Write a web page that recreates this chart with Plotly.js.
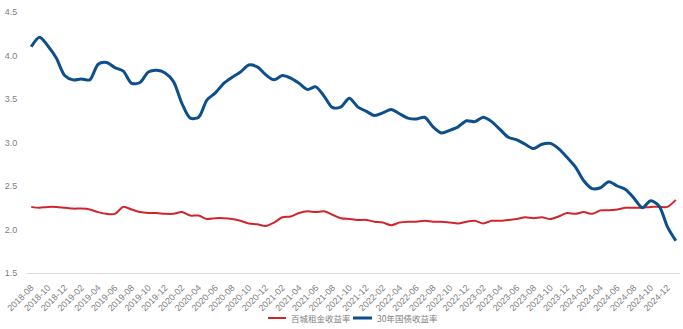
<!DOCTYPE html>
<html>
<head>
<meta charset="utf-8">
<script src="https://cdn.plot.ly/plotly-3.0.1.min.js"></script>
<style>html,body{margin:0;padding:0;background:#fff;}#chart{width:683px;height:329px;}</style>
</head>
<body>
<div id="chart"></div>
<script>
// Months 2018-08 .. 2025-01
const months = [
  "2018-08","2018-09","2018-10","2018-11","2018-12",
  "2019-01","2019-02","2019-03","2019-04","2019-05","2019-06","2019-07","2019-08","2019-09","2019-10","2019-11","2019-12",
  "2020-01","2020-02","2020-03","2020-04","2020-05","2020-06","2020-07","2020-08","2020-09","2020-10","2020-11","2020-12",
  "2021-01","2021-02","2021-03","2021-04","2021-05","2021-06","2021-07","2021-08","2021-09","2021-10","2021-11","2021-12",
  "2022-01","2022-02","2022-03","2022-04","2022-05","2022-06","2022-07","2022-08","2022-09","2022-10","2022-11","2022-12",
  "2023-01","2023-02","2023-03","2023-04","2023-05","2023-06","2023-07","2023-08","2023-09","2023-10","2023-11","2023-12",
  "2024-01","2024-02","2024-03","2024-04","2024-05","2024-06","2024-07","2024-08","2024-09","2024-10","2024-11","2024-12",
  "2025-01"
];
// 百城租金收益率 (%)
const rentYield = [
  2.26,2.25,2.26,2.26,2.25,
  2.24,2.24,2.23,2.20,2.18,2.18,2.26,2.23,2.20,2.19,2.19,2.18,
  2.18,2.20,2.16,2.16,2.12,2.13,2.13,2.12,2.10,2.07,2.06,2.04,
  2.08,2.14,2.15,2.19,2.21,2.20,2.21,2.17,2.13,2.12,2.11,2.11,
  2.09,2.08,2.05,2.08,2.09,2.09,2.10,2.09,2.09,2.08,2.07,2.09,
  2.10,2.07,2.10,2.10,2.11,2.12,2.14,2.13,2.14,2.12,2.15,2.19,
  2.18,2.20,2.18,2.22,2.22,2.23,2.25,2.25,2.25,2.26,2.26,2.26,
  2.34
];
// 30年国债收益率 (%)
const bond30y = [
  4.10,4.21,4.11,3.97,3.77,
  3.72,3.73,3.72,3.90,3.92,3.86,3.82,3.68,3.69,3.81,3.83,3.80,
  3.70,3.45,3.28,3.29,3.49,3.57,3.68,3.75,3.81,3.89,3.87,3.78,
  3.72,3.77,3.74,3.68,3.61,3.64,3.53,3.40,3.41,3.51,3.41,3.36,
  3.31,3.34,3.38,3.33,3.28,3.27,3.29,3.18,3.11,3.14,3.18,3.25,
  3.24,3.29,3.24,3.15,3.06,3.03,2.98,2.93,2.98,2.99,2.93,2.83,
  2.72,2.56,2.47,2.48,2.55,2.50,2.46,2.36,2.25,2.33,2.27,2.03,
  1.87
];
const seriesNames = ["百城租金收益率", "30年国债收益率"];
const seriesColors = ["#d0262b", "#0d4f8c"];
const tickMonths = months.filter((m, i) => i % 2 === 0);
const yTicks = [1.5, 2.0, 2.5, 3.0, 3.5, 4.0, 4.5];

const font = "Liberation Sans, Arial, Noto Sans CJK SC, sans-serif";
const cjkFont = "Noto Sans CJK SC, Liberation Sans, sans-serif";
const traces = [
  {x: months, y: rentYield, name: seriesNames[0], type: "scatter", mode: "lines",
   line: {color: seriesColors[0], width: 2, shape: "spline", smoothing: 0.8}},
  {x: months, y: bond30y, name: seriesNames[1], type: "scatter", mode: "lines",
   line: {color: seriesColors[1], width: 3, shape: "spline", smoothing: 0.8}}
];

// Legend drawn below the plot (paper coordinates)
const plotL = 27, plotW = 653, plotT = 12, plotH = 261;
const px = v => (v - plotL) / plotW;
const py = v => (plotT + plotH - v) / plotH;
const legendY = 318;
const legendItems = [
  {x0: 268, x1: 286, tx: 289, w: 2},
  {x0: 353, x1: 372, tx: 375, w: 3}
];
const shapes = legendItems.map((it, k) => ({
  type: "line", xref: "paper", yref: "paper",
  x0: px(it.x0), x1: px(it.x1), y0: py(legendY), y1: py(legendY),
  line: {color: seriesColors[k], width: it.w}
}));
const annotations = legendItems.map((it, k) => ({
  xref: "paper", yref: "paper", x: px(it.tx), y: py(legendY),
  xanchor: "left", yanchor: "middle", showarrow: false,
  text: seriesNames[k], font: {family: cjkFont, size: 8.5, color: "#808080"}
}));

const layout = {
  width: 683, height: 329,
  margin: {l: plotL, r: 683 - plotL - plotW, t: plotT, b: 329 - plotT - plotH},
  paper_bgcolor: "#ffffff", plot_bgcolor: "#ffffff",
  font: {family: font, size: 9, color: "#808080"},
  showlegend: false,
  shapes: shapes,
  annotations: annotations,
  xaxis: {type: "category", range: [-0.5, months.length - 0.5],
          tickvals: tickMonths, ticktext: tickMonths, tickangle: -45,
          showgrid: false, zeroline: false, showline: true, linecolor: "#d9d9d9", linewidth: 1,
          ticks: "outside", ticklen: 5, tickcolor: "rgba(0,0,0,0)",
          tickfont: {size: 9, color: "#808080"}},
  yaxis: {range: [1.5, 4.5], tickvals: yTicks, ticktext: yTicks.map(v => v.toFixed(1)),
          showgrid: false, zeroline: false, showline: false,
          ticks: "outside", ticklen: 7, tickcolor: "rgba(0,0,0,0)",
          tickfont: {size: 9, color: "#808080"}}
};
Plotly.newPlot("chart", traces, layout, {displayModeBar: false, staticPlot: true});
</script>
</body>
</html>
